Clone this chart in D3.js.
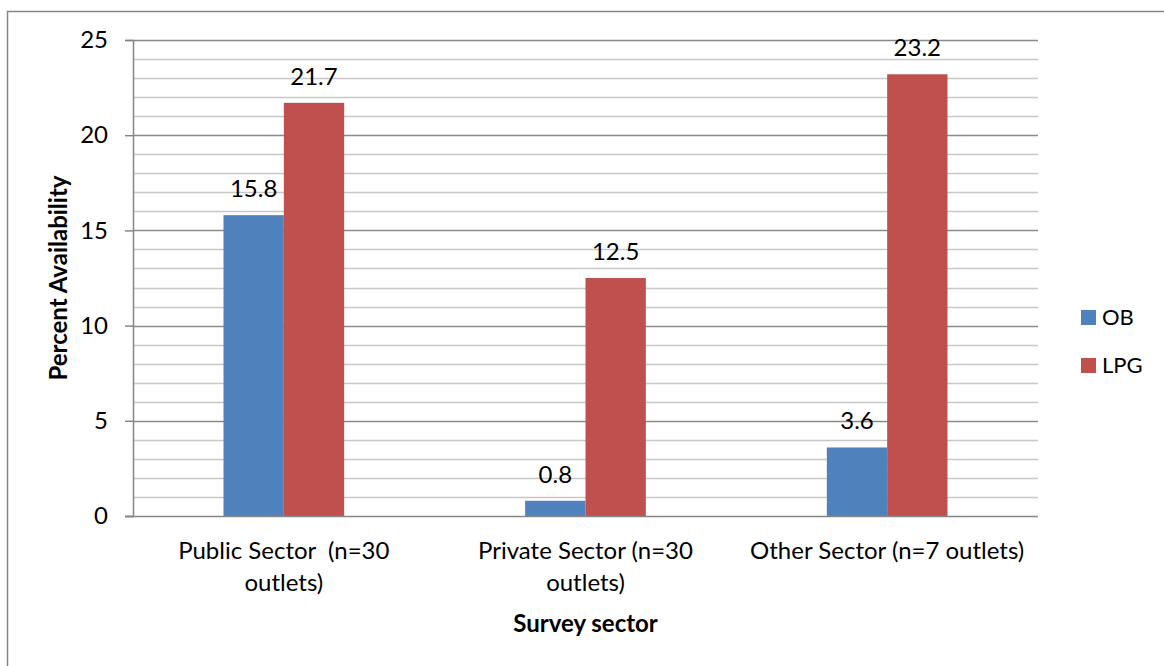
<!DOCTYPE html>
<meta charset="utf-8">
<head>
    <title>Percent availability by survey sector</title>
    <script src="https://d3js.org/d3.v7.min.js"></script>
    <style>
        body {
            margin: 0;
            background: #fff;
        }

        svg text {
            font-family: "Lato", "Liberation Sans", sans-serif;
            fill: #000;
            white-space: pre;
        }
    </style>
</head>

<body>
<div id="chart"></div>

<script>
    // data
    var categories = [
        ["Public Sector  (n=30", "outlets)"],
        ["Private Sector (n=30", "outlets)"],
        ["Other Sector (n=7 outlets)"]
    ]
    var seriesNames = ["OB", "LPG"]
    var obValues = [15.8, 0.8, 3.6]
    var lpgValues = [21.7, 12.5, 23.2]
    var yTicks = [0, 5, 10, 15, 20, 25]
    var colors = ["#4F81BD", "#C0504D"]

    var width = 1164,
        height = 666;

    var margin = {top: 40, right: 126, bottom: 150, left: 133};

    var svg = d3.select("#chart")
        .append("svg")
        .attr("width", width)
        .attr("height", height);

    // outer chart frame (runs off the right and bottom edges)
    svg.append("rect")
        .attr("x", 7.5)
        .attr("y", 11.5)
        .attr("width", 1200)
        .attr("height", 700)
        .attr("fill", "none")
        .attr("stroke", "#868686")
        .attr("stroke-width", 1.5);

    var plotW = width - margin.left - margin.right,
        plotH = height - margin.top - margin.bottom;

    var g = svg.append("g")
        .attr("transform", "translate(" + margin.left + "," + margin.top + ")");

    var x = d3.scaleBand()
        .domain(d3.range(categories.length))
        .range([0, plotW]);

    var y = d3.scaleLinear()
        .domain([0, 25])
        .range([plotH, 0]);

    var barW = x.bandwidth() / 5;

    // minor gridlines every 1
    g.append("g")
        .selectAll("line")
        .data(d3.range(1, 25).filter(function (d) { return d % 5 !== 0; }))
        .enter()
        .append("line")
        .attr("x1", 0)
        .attr("x2", plotW)
        .attr("y1", function (d) { return Math.round(y(d)) + 0.5; })
        .attr("y2", function (d) { return Math.round(y(d)) + 0.5; })
        .attr("stroke", "#c8c8c8")
        .attr("stroke-width", 1.5);

    // major gridlines every 5
    g.append("g")
        .selectAll("line")
        .data(yTicks.filter(function (d) { return d > 0; }))
        .enter()
        .append("line")
        .attr("x1", 0)
        .attr("x2", plotW)
        .attr("y1", function (d) { return Math.round(y(d)) + 0.5; })
        .attr("y2", function (d) { return Math.round(y(d)) + 0.5; })
        .attr("stroke", "#8a8a8a")
        .attr("stroke-width", 1.3);

    // y axis
    var yAxis = g.append("g")
        .call(d3.axisLeft(y).tickValues(yTicks).tickSize(8).tickPadding(17));
    yAxis.select(".domain").attr("stroke", "#868686").attr("stroke-width", 1.5);
    yAxis.selectAll(".tick line").attr("stroke", "#868686").attr("stroke-width", 1.5);
    yAxis.selectAll(".tick text")
        .style("font-size", "24px")
        .style("font-family", "Lato, sans-serif")
        .attr("fill", "#000");

    // bars
    var series = [obValues, lpgValues];
    series.forEach(function (vals, s) {
        g.append("g")
            .selectAll("rect")
            .data(vals)
            .enter()
            .append("rect")
            .attr("x", function (d, i) { return x(i) + x.bandwidth() / 2 - barW + s * barW; })
            .attr("y", function (d) { return y(d); })
            .attr("width", barW)
            .attr("height", function (d) { return y(0) - y(d); })
            .attr("fill", colors[s]);

        g.append("g")
            .selectAll("text")
            .data(vals)
            .enter()
            .append("text")
            .attr("x", function (d, i) { return x(i) + x.bandwidth() / 2 - barW / 2 + s * barW; })
            .attr("y", function (d) { return y(d) - 18; })
            .attr("text-anchor", "middle")
            .style("font-size", "24px")
            .text(function (d) { return d3.format(".1f")(d); });
    });

    // x axis baseline
    g.append("line")
        .attr("x1", -8)
        .attr("x2", plotW)
        .attr("y1", plotH + 0.5)
        .attr("y2", plotH + 0.5)
        .attr("stroke", "#868686")
        .attr("stroke-width", 1.5);

    // category labels
    categories.forEach(function (lines, i) {
        var t = g.append("text")
            .attr("x", x(i) + x.bandwidth() / 2)
            .attr("y", 559 - margin.top)
            .attr("text-anchor", "middle")
            .style("font-size", "24px");
        lines.forEach(function (line, k) {
            t.append("tspan")
                .attr("x", x(i) + x.bandwidth() / 2)
                .attr("dy", k === 0 ? 0 : 32)
                .text(line);
        });
    });

    // axis titles
    svg.append("text")
        .attr("x", margin.left + plotW / 2)
        .attr("y", 632)
        .attr("text-anchor", "middle")
        .style("font-size", "24px")
        .style("font-weight", "bold")
        .text("Survey sector");

    svg.append("text")
        .attr("transform", "translate(67," + (margin.top + plotH / 2) + ") rotate(-90)")
        .attr("text-anchor", "middle")
        .style("font-size", "24px")
        .style("font-weight", "bold")
        .text("Percent Availability");

    // legend
    var legend = svg.append("g")
        .attr("transform", "translate(1081, 310)");

    legend.selectAll("rect")
        .data(seriesNames)
        .enter()
        .append("rect")
        .attr("x", 0)
        .attr("y", function (d, i) { return i * 48; })
        .attr("width", 15)
        .attr("height", 15)
        .attr("fill", function (d, i) { return colors[i]; });

    legend.selectAll("text")
        .data(seriesNames)
        .enter()
        .append("text")
        .attr("x", 21)
        .attr("y", function (d, i) { return i * 48 + 15; })
        .style("font-size", "22px")
        .text(function (d) { return d; });
</script>
</body>
